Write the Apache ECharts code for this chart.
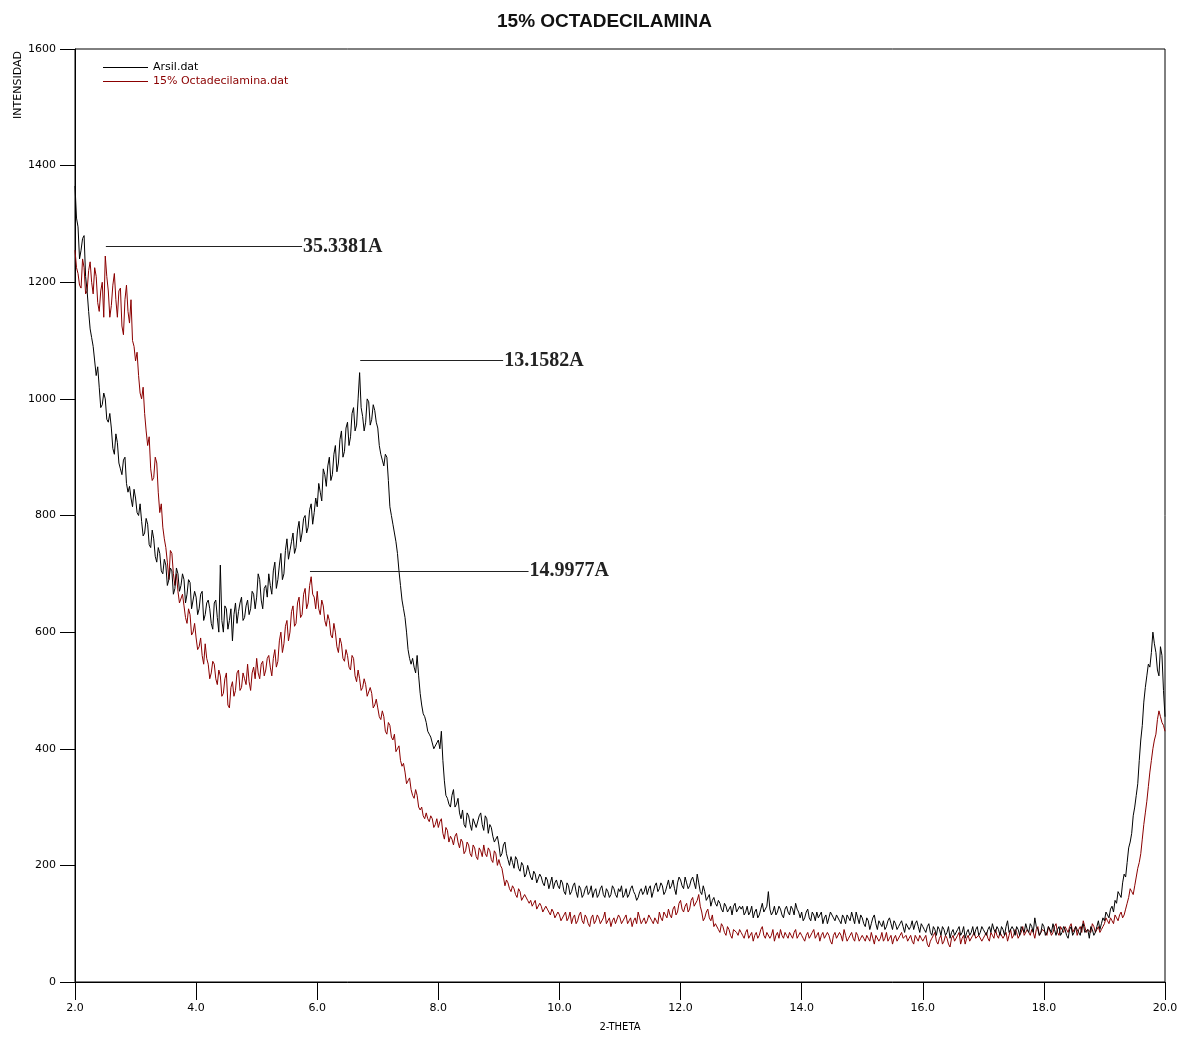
<!DOCTYPE html>
<html>
<head>
<meta charset="utf-8">
<script src="https://cdn.jsdelivr.net/npm/echarts@6/dist/echarts.min.js"></script>
<style>
html,body{margin:0;padding:0;background:#fff;}
#chart{width:1189px;height:1037px;}
</style>
</head>
<body>
<div id="chart"></div>
<script>
// 2-theta sampling: start and step (degrees); mid arrays sit half a step later
var thetaStart = 2.0;
var thetaStep = 0.05;

// Arsil.dat intensities at 2.00, 2.05, ... 20.00
var arsil = [].concat(
  [1365,1295,1255,1280,1185,1120,1090,1040,1020,990,1000,960,950,905,925,880,895,855,850,815],
  [830,800,790,770,785,745,760,720,735,700,715,690,705,675,700,680,690,665,685,655],
  [660,640,670,630,655,615,650,625,715,600,640,620,585,650,635,660,625,655,640,665],
  [660,690,640,680,700,665,720,690,735,700,760,740,770,745,790,770,800,780,820,805],
  [815,840,880,850,900,870,920,890,945,910,960,935,985,955,1045,970,960,995,965,980],
  [950,905,885,900,815,785,755,705,655,625,570,545,540,560,495,460,445,425,410,400],
  [415,430,345,315,300,330,305,290,295,265,285,260,280,265,290,260,280,270,250,245],
  [235,220,240,210,215,195,210,190,200,185,190,175,185,170,180,165,175,170,160,175],
  [160,170,150,165,155,170,145,160,150,165,155,145,160,150,165,145,155,150,160,145],
  [155,145,160,150,165,150,145,160,155,150,165,155,170,160,165,155,175,165,160,170],
  [175,160,170,165,180,160,170,150,155,140,130,145,130,135,120,130,125,115,135,120],
  [125,115,130,120,110,125,115,135,120,155,115,130,120,125,110,130,115,125,135,120],
  [120,110,125,105,115,120,110,100,115,110,120,105,115,100,110,115,105,110,120,100],
  [110,95,105,100,115,90,100,105,95,110,90,100,95,105,85,100,95,90,105,85],
  [95,85,100,80,90,95,80,90,85,75,90,80,95,85,75,90,85,80,95,85],
  [90,80,95,100,85,90,95,80,105,85,90,95,80,90,100,85,95,110,90,85],
  [95,85,90,100,80,95,85,90,75,95,85,90,80,100,85,75,90,85,105,100],
  [105,115,125,120,135,150,170,180,230,255,300,340,415,480,525,540,600,565,525,560,455]
);
// Arsil.dat intensities at 2.025, 2.075, ... 19.975
var arsilMid = [].concat(
  [1310,1240,1275,1210,1150,1105,1065,1055,985,1010,965,975,915,940,890,870,900,840,830,845],
  [805,820,765,795,750,775,730,745,705,725,680,710,665,710,670,700,650,690,640,670],
  [630,665,620,650,640,605,655,600,620,645,605,640,630,615,650,620,645,630,670,640],
  [700,655,675,660,680,705,675,715,690,740,725,755,735,775,755,795,770,810,785,830],
  [855,825,870,885,860,905,875,930,900,950,920,975,945,1000,985,945,1000,955,990,960],
  [920,895,905,860,800,770,735,680,640,600,555,555,530,525,475,455,430,420,400,410],
  [400,380,320,305,320,300,315,280,270,290,270,280,265,285,270,285,255,265,240,250],
  [215,235,220,200,205,215,195,205,180,200,180,190,170,185,170,180,160,180,170,165],
  [175,155,170,150,165,155,165,145,160,150,165,155,145,160,150,160,145,165,150,160],
  [165,150,145,160,155,140,155,150,165,160,145,165,155,170,150,165,160,175,150,180],
  [165,180,160,175,170,185,155,165,140,150,140,135,140,125,135,120,130,130,120,130],
  [130,120,115,130,120,110,125,120,130,125,120,115,130,115,125,120,130,115,125,110],
  [105,120,110,120,105,110,120,110,100,120,110,115,105,115,100,110,120,100,110,115],
  [100,110,90,110,100,105,95,90,105,100,105,90,100,95,100,90,105,100,95,100],
  [90,95,85,95,80,90,95,80,95,85,80,90,80,95,85,80,95,90,80,95],
  [85,90,85,90,95,80,90,95,85,95,80,90,95,85,90,100,85,95,80,100],
  [80,95,85,90,90,80,95,80,90,80,95,85,95,85,90,95,80,95,90,110],
  [120,110,130,140,155,145,185,205,240,285,320,380,440,505,545,565,580,535,575,500]
);

// 15% Octadecilamina.dat intensities at 2.00, 2.05, ... 20.00
var octa = [].concat(
  [1255,1215,1190,1225,1185,1235,1180,1210,1150,1200,1245,1185,1160,1215,1140,1190,1110,1195,1130,1100],
  [1065,1040,1000,975,920,880,865,890,805,780,745,690,735,680,670,650,645,615,630,600],
  [590,575,560,580,545,530,545,510,525,495,530,470,515,500,535,505,520,545,500,540],
  [555,520,550,535,560,525,570,550,600,580,620,600,645,615,660,630,675,650,695,660],
  [670,630,645,610,620,590,600,565,580,550,560,535,555,515,520,505,510,490,495,475],
  [470,450,455,425,440,415,395,405,370,360,345,330,315,320,295,285,290,275,280,270],
  [265,280,245,260,250,235,255,230,240,225,235,215,230,210,225,235,215,225,205,220],
  [210,195,165,170,155,160,145,155,140,150,135,130,140,125,130,120,125,115,120,110],
  [115,105,120,110,100,115,105,120,100,110,95,115,105,110,100,120,105,95,110,100],
  [110,100,115,105,95,110,120,100,110,105,115,100,110,120,105,115,125,110,130,120],
  [140,120,135,125,145,130,150,120,110,125,105,95,100,85,95,80,90,75,90,80],
  [85,75,90,80,70,85,80,95,75,85,80,70,85,90,75,80,85,75,90,80],
  [80,70,85,75,90,80,70,85,75,80,65,85,75,80,90,70,80,75,85,70],
  [80,70,75,85,65,80,75,70,85,75,65,80,70,85,75,70,80,65,75,80],
  [70,80,60,75,85,65,80,70,75,60,80,70,85,75,65,80,70,85,75,80],
  [75,85,70,80,90,75,85,80,70,90,80,85,75,95,80,85,90,75,95,85],
  [90,80,95,85,100,80,90,95,85,100,90,80,95,105,85,90,100,85,95,90],
  [100,105,110,100,110,115,110,125,145,155,165,195,220,270,310,360,400,425,465,445,430]
);
// 15% Octadecilamina.dat intensities at 2.025, 2.075, ... 19.975
var octaMid = [].concat(
  [1225,1195,1240,1180,1220,1200,1225,1165,1185,1140,1210,1140,1195,1170,1185,1125,1170,1150,1170,1090],
  [1080,1010,1020,945,935,860,900,840,820,760,720,740,700,700,650,665,625,640,595,615],
  [570,590,545,555,520,550,520,535,490,520,475,505,490,530,500,530,510,515,530,520],
  [530,545,525,555,540,555,540,585,565,610,585,635,610,650,625,665,640,680,665,640],
  [640,655,620,630,595,615,575,590,555,570,540,560,525,535,500,520,490,505,470,485],
  [455,465,430,445,420,425,400,380,375,340,350,320,330,300,300,280,280,285,265,280],
  [275,255,265,240,245,250,240,245,220,240,220,235,215,230,215,220,230,210,225,200],
  [200,180,175,160,165,150,160,140,150,140,140,135,125,135,120,130,120,125,110,120],
  [105,115,105,120,110,100,115,105,115,100,110,100,115,100,110,100,110,105,100,115],
  [100,110,100,110,105,100,110,105,100,115,105,110,100,110,120,110,115,125,115,135],
  [125,130,120,140,130,140,130,105,120,110,115,100,90,100,85,95,80,90,85,90],
  [80,85,75,85,80,75,90,80,85,75,90,80,75,80,85,75,80,85,75,85],
  [75,80,75,85,75,85,80,75,85,70,80,75,85,70,80,75,85,70,80,75],
  [75,80,70,75,80,70,85,75,70,80,75,70,80,75,80,75,70,80,70,75],
  [75,65,70,80,70,75,65,80,65,75,70,80,65,80,75,70,80,75,80,70],
  [80,75,85,75,80,85,75,85,80,75,90,75,85,80,90,80,85,90,80,90],
  [85,95,80,95,85,95,85,90,95,85,95,90,85,95,90,85,95,90,85,95],
  [110,100,105,115,105,120,115,135,160,150,180,205,245,290,335,380,415,450,455,440]
);

// Peak annotations: start 2θ, end 2θ, intensity level, label
var peakStart = [2.51, 6.71, 5.88];
var peakEnd = [5.75, 9.07, 9.49];
var peakLevel = [1261, 1066, 705];
var peakLabel = ['35.3381A', '13.1582A', '14.9977A'];

var seriesNames = ['Arsil.dat', '15% Octadecilamina.dat'];
var seriesColors = ['#000000', '#8b0000'];

function pairs(vals, mids) {
  var out = [];
  for (var i = 0; i < vals.length; i++) {
    var t = thetaStart + i * thetaStep;
    out.push([+t.toFixed(3), vals[i]]);
    if (i < mids.length) out.push([+(t + thetaStep / 2).toFixed(3), mids[i]]);
  }
  return out;
}

var markData = [];
for (var k = 0; k < peakLabel.length; k++) {
  markData.push([
    {coord: [peakStart[k], peakLevel[k]]},
    {coord: [peakEnd[k], peakLevel[k]], label: {formatter: peakLabel[k]}}
  ]);
}

var chart = echarts.init(document.getElementById('chart'), null, {renderer: 'canvas'});
var axisFont = 'DejaVu Sans';
chart.setOption({
  animation: false,
  backgroundColor: '#ffffff',
  title: {
    text: '15% OCTADECILAMINA',
    left: 497, top: 12, padding: 0,
    textStyle: {fontFamily: 'Liberation Sans', fontWeight: 'bold', fontSize: 19, color: '#111'}
  },
  legend: {
    orient: 'vertical',
    left: 98, top: 57,
    itemWidth: 45, itemHeight: 1, itemGap: 3,
    icon: 'rect',
    textStyle: {fontFamily: axisFont, fontSize: 11, color: '#000'},
    data: [
      {name: seriesNames[0], itemStyle: {color: seriesColors[0]}, textStyle: {color: seriesColors[0]}},
      {name: seriesNames[1], itemStyle: {color: seriesColors[1]}, textStyle: {color: seriesColors[1]}}
    ]
  },
  grid: {
    left: 75, right: 24, top: 49, bottom: 53,
    show: true, borderColor: '#000', borderWidth: 1, backgroundColor: 'transparent'
  },
  xAxis: {
    type: 'value', min: 2, max: 20, interval: 2,
    name: '2-THETA', nameLocation: 'middle', nameGap: 40,
    nameTextStyle: {fontFamily: axisFont, fontSize: 10, color: '#000'},
    axisLine: {show: true, onZero: false, lineStyle: {color: '#000', width: 1}},
    axisTick: {show: true, length: 18, lineStyle: {color: '#000'}},
    axisLabel: {margin: 21, fontFamily: axisFont, fontSize: 11, color: '#000',
      formatter: function (v) { return v.toFixed(1); }},
    splitLine: {show: false}
  },
  yAxis: {
    type: 'value', min: 0, max: 1600, interval: 200,
    axisLine: {show: true, lineStyle: {color: '#000', width: 1}},
    axisTick: {show: true, length: 15, lineStyle: {color: '#000'}},
    axisLabel: {margin: 19, fontFamily: axisFont, fontSize: 11, color: '#000',
      formatter: function (v) { return String(v); }},
    splitLine: {show: false}
  },
  graphic: [{
    type: 'text',
    x: 18, y: 85,
    rotation: Math.PI / 2,
    style: {text: 'INTENSIDAD', font: '11px "DejaVu Sans"', fill: '#000',
      align: 'center', verticalAlign: 'middle'}
  }],
  series: [
    {
      name: seriesNames[0], type: 'line', data: pairs(arsil, arsilMid),
      showSymbol: false, symbol: 'none',
      lineStyle: {color: seriesColors[0], width: 1},
      itemStyle: {color: seriesColors[0]},
      z: 3,
      markLine: {
        silent: true, symbol: 'none',
        lineStyle: {color: '#222', width: 1, type: 'solid'},
        label: {show: true, position: 'end', distance: 1,
          fontFamily: 'Liberation Serif', fontSize: 20, fontWeight: 'bold', color: '#222'},
        data: markData
      }
    },
    {
      name: seriesNames[1], type: 'line', data: pairs(octa, octaMid),
      showSymbol: false, symbol: 'none',
      lineStyle: {color: seriesColors[1], width: 1},
      itemStyle: {color: seriesColors[1]},
      z: 2
    }
  ]
});
</script>
</body>
</html>
